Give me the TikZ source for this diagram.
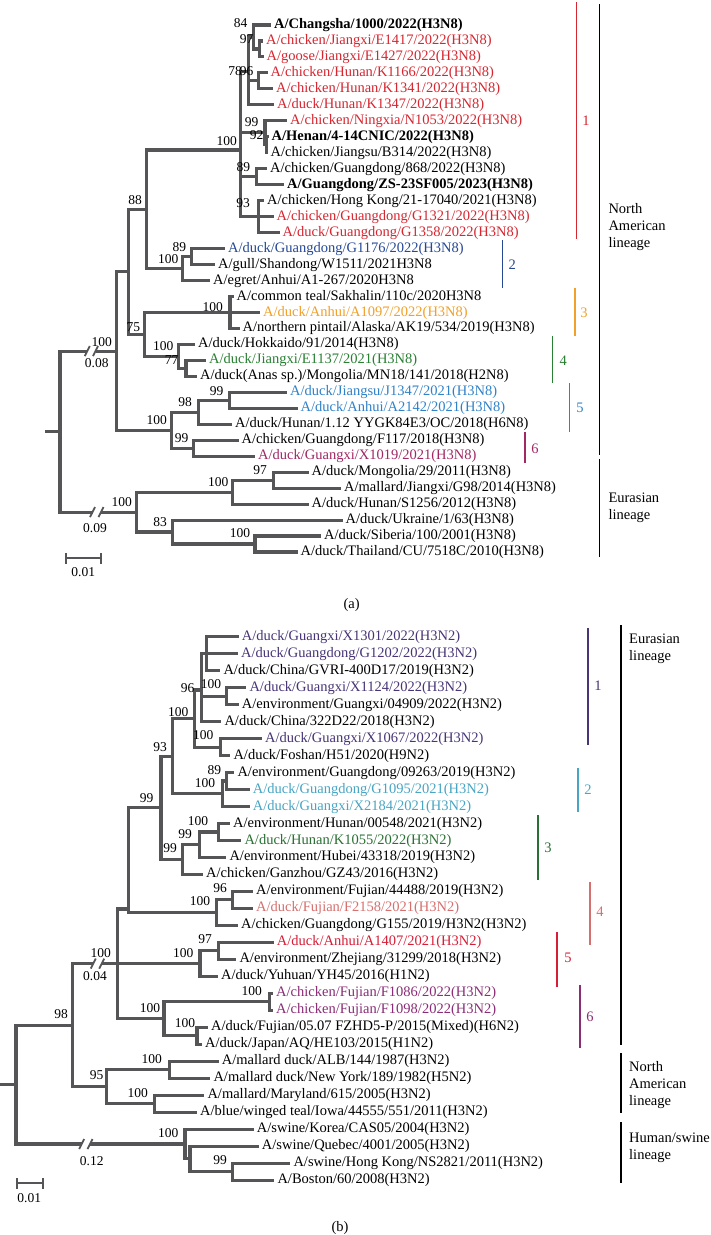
\documentclass[tikz,border=0pt]{standalone}
\usepackage{fontspec}
\setmainfont{Liberation Serif}
\usepackage{tikz}

\newcommand{\leaffont}{\fontsize{14.5}{17}\selectfont}
\newcommand{\bootfont}{\fontsize{13.5}{15}\selectfont}

\definecolor{treegray}{RGB}{85,85,88}
\definecolor{redA}{RGB}{214,38,48}
\definecolor{blueA}{RGB}{38,72,150}
\definecolor{orangeA}{RGB}{242,160,40}
\definecolor{greenA}{RGB}{40,128,50}
\definecolor{skyA}{RGB}{48,130,200}
\definecolor{plumA}{RGB}{160,40,100}
\definecolor{indigoB}{RGB}{72,52,118}
\definecolor{tealB}{RGB}{72,165,195}
\definecolor{greenB}{RGB}{42,112,52}
\definecolor{salmonB}{RGB}{214,112,110}
\definecolor{redB}{RGB}{214,30,55}
\definecolor{plumB}{RGB}{138,45,118}

\begin{document}
\begin{tikzpicture}[x=1pt,y=-1pt,
	leafnode/.style={anchor=west,inner xsep=3pt,inner ysep=0pt,text height=10pt,text depth=3pt,font=\leaffont},
	bootnode/.style={inner sep=0pt,font=\bootfont},
	cladenode/.style={inner sep=0pt,font=\leaffont},
	lineagenode/.style={anchor=west,align=left,inner sep=0pt,font=\fontsize{14.5}{17}\selectfont},
	branch/.style={draw=treegray,line width=3.1pt},
	slash/.style={draw=treegray,line width=1.8pt},
	cladebar/.style={line width=1.4pt}]
	
	\fill[white] (0,0) rectangle (711,1235);
	\useasboundingbox (0,0) rectangle (711,1235);
	
	% ---------------- (a) H3N8 ----------------
	\node [leafnode] (a0) at (271,25.0) {\bfseries A/Changsha/1000/2022(H3N8)};
	\node [leafnode,text=redA] (a1) at (263,41.0) {A/chicken/Jiangxi/E1417/2022(H3N8)};
	\node [leafnode,text=redA] (a2) at (263.5,56.9) {A/goose/Jiangxi/E1427/2022(H3N8)};
	\node [leafnode,text=redA] (a3) at (267.5,72.9) {A/chicken/Hunan/K1166/2022(H3N8)};
	\node [leafnode,text=redA] (a4) at (273,88.9) {A/chicken/Hunan/K1341/2022(H3N8)};
	\node [leafnode,text=redA] (a5) at (274,104.9) {A/duck/Hunan/K1347/2022(H3N8)};
	\node [leafnode,text=redA] (a6) at (287,120.8) {A/chicken/Ningxia/N1053/2022(H3N8)};
	\node [leafnode] (a7) at (268.5,136.8) {\bfseries A/Henan/4-14CNIC/2022(H3N8)};
	\node [leafnode] (a8) at (267.5,152.8) {A/chicken/Jiangsu/B314/2022(H3N8)};
	\node [leafnode] (a9) at (267,168.7) {A/chicken/Guangdong/868/2022(H3N8)};
	\node [leafnode] (a10) at (284,184.7) {\bfseries A/Guangdong/ZS-23SF005/2023(H3N8)};
	\node [leafnode] (a11) at (264,200.7) {A/chicken/Hong Kong/21-17040/2021(H3N8)};
	\node [leafnode,text=redA] (a12) at (273.5,216.6) {A/chicken/Guangdong/G1321/2022(H3N8)};
	\node [leafnode,text=redA] (a13) at (279.5,232.6) {A/duck/Guangdong/G1358/2022(H3N8)};
	\node [leafnode,text=blueA] (a14) at (225,248.6) {A/duck/Guangdong/G1176/2022(H3N8)};
	\node [leafnode] (a15) at (215,264.6) {A/gull/Shandong/W1511/2021H3N8};
	\node [leafnode] (a16) at (210,280.5) {A/egret/Anhui/A1-267/2020H3N8};
	\node [leafnode] (a17) at (233.5,296.5) {A/common teal/Sakhalin/110c/2020H3N8};
	\node [leafnode,text=orangeA] (a18) at (260,312.5) {A/duck/Anhui/A1097/2022(H3N8)};
	\node [leafnode] (a19) at (239.5,328.4) {A/northern pintail/Alaska/AK19/534/2019(H3N8)};
	\node [leafnode] (a20) at (195,344.4) {A/duck/Hokkaido/91/2014(H3N8)};
	\node [leafnode,text=greenA] (a21) at (206,360.4) {A/duck/Jiangxi/E1137/2021(H3N8)};
	\node [leafnode] (a22) at (197,376.3) {A/duck(Anas sp.)/Mongolia/MN18/141/2018(H2N8)};
	\node [leafnode,text=skyA] (a23) at (287,392.3) {A/duck/Jiangsu/J1347/2021(H3N8)};
	\node [leafnode,text=skyA] (a24) at (297.5,408.3) {A/duck/Anhui/A2142/2021(H3N8)};
	\node [leafnode] (a25) at (232,424.3) {A/duck/Hunan/1.12 YYGK84E3/OC/2018(H6N8)};
	\node [leafnode] (a26) at (238.5,440.2) {A/chicken/Guangdong/F117/2018(H3N8)};
	\node [leafnode,text=plumA] (a27) at (255,456.2) {A/duck/Guangxi/X1019/2021(H3N8)};
	\node [leafnode] (a28) at (308.5,472.2) {A/duck/Mongolia/29/2011(H3N8)};
	\node [leafnode] (a29) at (341,488.1) {A/mallard/Jiangxi/G98/2014(H3N8)};
	\node [leafnode] (a30) at (308.5,504.1) {A/duck/Hunan/S1256/2012(H3N8)};
	\node [leafnode] (a31) at (342.5,520.1) {A/duck/Ukraine/1/63(H3N8)};
	\node [leafnode] (a32) at (321,536.0) {A/duck/Siberia/100/2001(H3N8)};
	\node [leafnode] (a33) at (297.5,552.0) {A/duck/Thailand/CU/7518C/2010(H3N8)};
	
	\coordinate (ars) at (45,431.6);
	\coordinate (ar) at (60,431.6);
	\coordinate (ka1) at (87.3,351.1);
	\coordinate (ka2) at (95.5,351.1);
	\coordinate (an1) at (116.7,351.1);
	\coordinate (aA) at (128.3,271.9);
	\coordinate (aB) at (146.7,209.3);
	\coordinate (aC) at (240.7,150);
	\coordinate (aD) at (248.3,71.2);
	\coordinate (aE) at (253.3,37);
	\coordinate (aEp) at (259.3,49);
	\coordinate (aF) at (258.3,80.9);
	\coordinate (aG) at (265,132.8);
	\coordinate (aH) at (266.7,144.8);
	\coordinate (aI) at (256.7,176.7);
	\coordinate (aJ) at (258.3,216.6);
	\coordinate (aK) at (182.7,268.5);
	\coordinate (aL) at (191.7,256.6);
	\coordinate (aM) at (144.3,334.5);
	\coordinate (aN) at (230,312.5);
	\coordinate (aO) at (178.3,356.4);
	\coordinate (aP) at (186,368.4);
	\coordinate (aQ) at (171.7,430.3);
	\coordinate (aR) at (198.3,412.3);
	\coordinate (aS) at (229.3,400.3);
	\coordinate (aT) at (193.3,448.2);
	\coordinate (kb1) at (92.5,512.1);
	\coordinate (kb2) at (101,512.1);
	\coordinate (aU) at (136.7,512.1);
	\coordinate (aV) at (232.7,492.2);
	\coordinate (aW) at (273.3,480.2);
	\coordinate (aX) at (172.7,532);
	\coordinate (aY) at (255,544);
	
	\draw[branch] (ars) -- (ar);
	\draw[branch] (ar) |- (ka1);
	\draw[branch] (ka2) -- (an1);
	\draw[branch] (ar) |- (kb1);
	\draw[branch] (kb2) -- (aU);
	\draw[branch] (an1) |- (aA);
	\draw[branch] (an1) |- (aQ);
	\draw[branch] (aA) |- (aB);
	\draw[branch] (aA) |- (aM);
	\draw[branch] (aB) |- (aC);
	\draw[branch] (aB) |- (aK);
	\draw[branch] (aC) |- (aD);
	\draw[branch] (aC) |- (aG);
	\draw[branch] (aC) |- (aI);
	\draw[branch] (aC) |- (aJ);
	\draw[branch] (aD) |- (aE);
	\draw[branch] (aD) |- (aF);
	\draw[branch] (aD) |- (a5);
	\draw[branch] (aE) |- (a0);
	\draw[branch] (aE) |- (aEp);
	\draw[branch] (aEp) |- (a1);
	\draw[branch] (aEp) |- (a2);
	\draw[branch] (aF) |- (a3);
	\draw[branch] (aF) |- (a4);
	\draw[branch] (aG) |- (a6);
	\draw[branch] (aG) |- (aH);
	\draw[branch] (aH) |- (a7);
	\draw[branch] (aH) |- (a8);
	\draw[branch] (aI) |- (a9);
	\draw[branch] (aI) |- (a10);
	\draw[branch] (aJ) |- (a11);
	\draw[branch] (aJ) |- (a12);
	\draw[branch] (aJ) |- (a13);
	\draw[branch] (aK) |- (aL);
	\draw[branch] (aK) |- (a16);
	\draw[branch] (aL) |- (a14);
	\draw[branch] (aL) |- (a15);
	\draw[branch] (aM) |- (aN);
	\draw[branch] (aM) |- (aO);
	\draw[branch] (aN) |- (a17);
	\draw[branch] (aN) |- (a18);
	\draw[branch] (aN) |- (a19);
	\draw[branch] (aO) |- (a20);
	\draw[branch] (aO) |- (aP);
	\draw[branch] (aP) |- (a21);
	\draw[branch] (aP) |- (a22);
	\draw[branch] (aQ) |- (aR);
	\draw[branch] (aQ) |- (aT);
	\draw[branch] (aR) |- (aS);
	\draw[branch] (aR) |- (a25);
	\draw[branch] (aS) |- (a23);
	\draw[branch] (aS) |- (a24);
	\draw[branch] (aT) |- (a26);
	\draw[branch] (aT) |- (a27);
	\draw[branch] (aU) |- (aV);
	\draw[branch] (aU) |- (aX);
	\draw[branch] (aV) |- (aW);
	\draw[branch] (aV) |- (a30);
	\draw[branch] (aW) |- (a28);
	\draw[branch] (aW) |- (a29);
	\draw[branch] (aX) |- (a31);
	\draw[branch] (aX) |- (aY);
	\draw[branch] (aY) |- (a32);
	\draw[branch] (aY) |- (a33);
	
	% breaks
	\draw[slash] (ka1) ++(-2.5,5) -- ++(5,-10);
	\draw[slash] (ka2) ++(-2.5,5) -- ++(5,-10);
	\draw[slash] (kb1) ++(-2.5,5) -- ++(5,-10);
	\draw[slash] (kb2) ++(-2.5,5) -- ++(5,-10);
	
	\node [bootnode] (ab1) at (101.7,341.7) {100};
	\node [bootnode] (ab2) at (96.7,363.3) {0.08};
	\node [bootnode] (ab3) at (121.7,501.7) {100};
	\node [bootnode] (ab4) at (95,528.3) {0.09};
	\node [bootnode] (ab5) at (135,200) {88};
	\node [bootnode] (ab6) at (133.3,326.7) {75};
	\node [bootnode] (ab7) at (226.7,141) {100};
	\node [bootnode] (ab8) at (240.7,23.3) {84};
	\node [bootnode] (ab9) at (246.7,39.3) {97};
	\node [bootnode] (ab10) at (235,71) {78};
	\node [bootnode] (ab11) at (246.7,71) {96};
	\node [bootnode] (ab12) at (251.7,122.3) {99};
	\node [bootnode] (ab13) at (256.7,135) {92};
	\node [bootnode] (ab14) at (243.3,166.7) {89};
	\node [bootnode] (ab15) at (243,202.7) {93};
	\node [bootnode] (ab16) at (168.3,259) {100};
	\node [bootnode] (ab17) at (179.3,246.7) {89};
	\node [bootnode] (ab18) at (212.7,306.7) {100};
	\node [bootnode] (ab19) at (163.3,346) {100};
	\node [bootnode] (ab20) at (171.7,360) {77};
	\node [bootnode] (ab21) at (156.7,420) {100};
	\node [bootnode] (ab22) at (185,401.7) {98};
	\node [bootnode] (ab23) at (216.7,390.7) {99};
	\node [bootnode] (ab24) at (181.7,438.3) {99};
	\node [bootnode] (ab25) at (218.3,481.7) {100};
	\node [bootnode] (ab26) at (260,470) {97};
	\node [bootnode] (ab27) at (160,521.7) {83};
	\node [bootnode] (ab28) at (240,533.3) {100};
	
	% clades (a)
	\draw[cladebar,redA] (576.7,2) -- (576.7,239);
	\node [cladenode,text=redA] (ac1) at (586,120.5) {1};
	\draw[cladebar,blueA] (502.7,240.3) -- (502.7,287.7);
	\node [cladenode,text=blueA] (ac2) at (512.3,264.8) {2};
	\draw[cladebar,orangeA] (575,287.7) -- (575,336);
	\node [cladenode,text=orangeA] (ac3) at (584,312.3) {3};
	\draw[cladebar,greenA] (552.7,336) -- (552.7,383.4);
	\node [cladenode,text=greenA] (ac4) at (563.3,360.5) {4};
	\draw[cladebar,skyA] (569.3,383.4) -- (569.3,432);
	\node [cladenode,text=skyA] (ac5) at (580,408) {5};
	\draw[cladebar,plumA] (525,432) -- (525,463.2);
	\node [cladenode,text=plumA] (ac6) at (535,448.6) {6};
	\draw[cladebar,black] (599.3,4) -- (599.3,454.5);
	\node [lineagenode] (al1) at (608.3,227) {North\\American\\lineage};
	\draw[cladebar,black] (599.3,458.5) -- (599.3,557.3);
	\node [lineagenode] (al2) at (608.3,507.5) {Eurasian\\lineage};
	
	\draw[treegray,line width=1.8pt] (66,558.3) -- (100.7,558.3);
	\draw[treegray,line width=1.8pt] (66,553) -- (66,563.6);
	\draw[treegray,line width=1.8pt] (100.7,553) -- (100.7,563.6);
	\node [bootnode] (as) at (83.3,572) {0.01};
	\node [cladenode] (acap) at (351.7,605) {(a)};
	
	% ---------------- (b) H3N2 ----------------
	\node [leafnode,text=indigoB] (b0) at (238.7,636.7) {A/duck/Guangxi/X1301/2022(H3N2)};
	\node [leafnode,text=indigoB] (b1) at (238,653.7) {A/duck/Guangdong/G1202/2022(H3N2)};
	\node [leafnode] (b2) at (220.3,670.7) {A/duck/China/GVRI-400D17/2019(H3N2)};
	\node [leafnode,text=indigoB] (b3) at (246.3,687.6) {A/duck/Guangxi/X1124/2022(H3N2)};
	\node [leafnode] (b4) at (238.7,704.6) {A/environment/Guangxi/04909/2022(H3N2)};
	\node [leafnode] (b5) at (221.3,721.6) {A/duck/China/322D22/2018(H3N2)};
	\node [leafnode,text=indigoB] (b6) at (262,738.6) {A/duck/Guangxi/X1067/2022(H3N2)};
	\node [leafnode] (b7) at (230.3,755.6) {A/duck/Foshan/H51/2020(H9N2)};
	\node [leafnode] (b8) at (234.3,772.5) {A/environment/Guangdong/09263/2019(H3N2)};
	\node [leafnode,text=tealB] (b9) at (249.7,789.5) {A/duck/Guangdong/G1095/2021(H3N2)};
	\node [leafnode,text=tealB] (b10) at (249.7,806.5) {A/duck/Guangxi/X2184/2021(H3N2)};
	\node [leafnode] (b11) at (230,823.5) {A/environment/Hunan/00548/2021(H3N2)};
	\node [leafnode,text=greenB] (b12) at (241.3,840.5) {A/duck/Hunan/K1055/2022(H3N2)};
	\node [leafnode] (b13) at (226.3,857.4) {A/environment/Hubei/43318/2019(H3N2)};
	\node [leafnode] (b14) at (203,874.4) {A/chicken/Ganzhou/GZ43/2016(H3N2)};
	\node [leafnode] (b15) at (253,891.4) {A/environment/Fujian/44488/2019(H3N2)};
	\node [leafnode,text=salmonB] (b16) at (253,908.4) {A/duck/Fujian/F2158/2021(H3N2)};
	\node [leafnode] (b17) at (238,925.4) {A/chicken/Guangdong/G155/2019/H3N2(H3N2)};
	\node [leafnode,text=redB] (b18) at (273.7,942.3) {A/duck/Anhui/A1407/2021(H3N2)};
	\node [leafnode] (b19) at (236.3,959.3) {A/environment/Zhejiang/31299/2018(H3N2)};
	\node [leafnode] (b20) at (218,976.3) {A/duck/Yuhuan/YH45/2016(H1N2)};
	\node [leafnode,text=plumB] (b21) at (273,993.3) {A/chicken/Fujian/F1086/2022(H3N2)};
	\node [leafnode,text=plumB] (b22) at (273,1010.3) {A/chicken/Fujian/F1098/2022(H3N2)};
	\node [leafnode] (b23) at (208,1027.2) {A/duck/Fujian/05.07 FZHD5-P/2015(Mixed)(H6N2)};
	\node [leafnode] (b24) at (202,1044.2) {A/duck/Japan/AQ/HE103/2015(H1N2)};
	\node [leafnode] (b25) at (218.7,1061.2) {A/mallard duck/ALB/144/1987(H3N2)};
	\node [leafnode] (b26) at (210.3,1078.2) {A/mallard duck/New York/189/1982(H5N2)};
	\node [leafnode] (b27) at (204.3,1095.2) {A/mallard/Maryland/615/2005(H3N2)};
	\node [leafnode] (b28) at (197,1112.1) {A/blue/winged teal/Iowa/44555/551/2011(H3N2)};
	\node [leafnode] (b29) at (253.7,1129.1) {A/swine/Korea/CAS05/2004(H3N2)};
	\node [leafnode] (b30) at (258.7,1146.1) {A/swine/Quebec/4001/2005(H3N2)};
	\node [leafnode] (b31) at (290.3,1163.1) {A/swine/Hong Kong/NS2821/2011(H3N2)};
	\node [leafnode] (b32) at (274.3,1180.1) {A/Boston/60/2008(H3N2)};
	
	\coordinate (brs) at (0,1084.6);
	\coordinate (br) at (16,1084.6);
	\coordinate (bAA) at (72.7,1025.2);
	\coordinate (kc1) at (93.3,963.6);
	\coordinate (kc2) at (101.7,963.6);
	\coordinate (bBB) at (117.3,963.6);
	\coordinate (bCC) at (128.3,909);
	\coordinate (bDD) at (161,807.9);
	\coordinate (bEE) at (172.7,756.2);
	\coordinate (bGG) at (194.3,718.5);
	\coordinate (bII) at (201.7,690);
	\coordinate (bLL) at (206.7,653.7);
	\coordinate (bKK) at (226.7,696.1);
	\coordinate (bJJ) at (220.7,747.1);
	\coordinate (bHH) at (222.7,793.8);
	\coordinate (bMM) at (226.7,781);
	\coordinate (bFF) at (182.7,859.6);
	\coordinate (bNN) at (199.3,844.7);
	\coordinate (bOO) at (218.3,832);
	\coordinate (bPP) at (216.7,912.7);
	\coordinate (bQQ) at (232.7,899.9);
	\coordinate (bRR) at (200,963.6);
	\coordinate (bSS) at (218.3,950.8);
	\coordinate (bTT) at (164,1018.8);
	\coordinate (bUU) at (269.3,1001.8);
	\coordinate (bVV) at (197,1035.7);
	\coordinate (bWW) at (106.7,1086.7);
	\coordinate (bXX) at (169.3,1069.7);
	\coordinate (bYY) at (154.3,1103.7);
	\coordinate (kd1) at (81.7,1144);
	\coordinate (kd2) at (90,1144);
	\coordinate (bZZ) at (185,1144);
	\coordinate (bAAA) at (190,1158.9);
	\coordinate (bBBB) at (232.3,1171.6);
	
	\draw[branch] (brs) -- (br);
	\draw[branch] (br) |- (bAA);
	\draw[branch] (br) |- (kd1);
	\draw[branch] (kd2) -- (bZZ);
	\draw[branch] (bAA) |- (kc1);
	\draw[branch] (kc2) -- (bBB);
	\draw[branch] (bAA) |- (bWW);
	\draw[branch] (bBB) |- (bCC);
	\draw[branch] (bBB) |- (bRR);
	\draw[branch] (bBB) |- (bTT);
	\draw[branch] (bCC) |- (bDD);
	\draw[branch] (bCC) |- (bPP);
	\draw[branch] (bDD) |- (bEE);
	\draw[branch] (bDD) |- (bFF);
	\draw[branch] (bEE) |- (bGG);
	\draw[branch] (bEE) |- (bHH);
	\draw[branch] (bGG) |- (bII);
	\draw[branch] (bGG) |- (bJJ);
	\draw[branch] (bII) |- (bLL);
	\draw[branch] (bII) |- (bKK);
	\draw[branch] (bII) |- (b5);
	\draw[branch] (bLL) |- (b0);
	\draw[branch] (bLL) |- (b1);
	\draw[branch] (bLL) |- (b2);
	\draw[branch] (bKK) |- (b3);
	\draw[branch] (bKK) |- (b4);
	\draw[branch] (bJJ) |- (b6);
	\draw[branch] (bJJ) |- (b7);
	\draw[branch] (bHH) |- (bMM);
	\draw[branch] (bHH) |- (b10);
	\draw[branch] (bMM) |- (b8);
	\draw[branch] (bMM) |- (b9);
	\draw[branch] (bFF) |- (bNN);
	\draw[branch] (bFF) |- (b14);
	\draw[branch] (bNN) |- (bOO);
	\draw[branch] (bNN) |- (b13);
	\draw[branch] (bOO) |- (b11);
	\draw[branch] (bOO) |- (b12);
	\draw[branch] (bPP) |- (bQQ);
	\draw[branch] (bPP) |- (b17);
	\draw[branch] (bQQ) |- (b15);
	\draw[branch] (bQQ) |- (b16);
	\draw[branch] (bRR) |- (bSS);
	\draw[branch] (bRR) |- (b20);
	\draw[branch] (bSS) |- (b18);
	\draw[branch] (bSS) |- (b19);
	\draw[branch] (bTT) |- (bUU);
	\draw[branch] (bTT) |- (bVV);
	\draw[branch] (bUU) |- (b21);
	\draw[branch] (bUU) |- (b22);
	\draw[branch] (bVV) |- (b23);
	\draw[branch] (bVV) |- (b24);
	\draw[branch] (bWW) |- (bXX);
	\draw[branch] (bWW) |- (bYY);
	\draw[branch] (bXX) |- (b25);
	\draw[branch] (bXX) |- (b26);
	\draw[branch] (bYY) |- (b27);
	\draw[branch] (bYY) |- (b28);
	\draw[branch] (bZZ) |- (b29);
	\draw[branch] (bZZ) |- (bAAA);
	\draw[branch] (bAAA) |- (b30);
	\draw[branch] (bAAA) |- (bBBB);
	\draw[branch] (bBBB) |- (b31);
	\draw[branch] (bBBB) |- (b32);
	
	% breaks
	\draw[slash] (kc1) ++(-2.5,5) -- ++(5,-10);
	\draw[slash] (kc2) ++(-2.5,5) -- ++(5,-10);
	\draw[slash] (kd1) ++(-2.5,5) -- ++(5,-10);
	\draw[slash] (kd2) ++(-2.5,5) -- ++(5,-10);
	
	\node [bootnode] (bb1) at (187.7,687.7) {96};
	\node [bootnode] (bb2) at (211,684) {100};
	\node [bootnode] (bb3) at (178.3,711.7) {100};
	\node [bootnode] (bb4) at (203.3,735) {100};
	\node [bootnode] (bb5) at (160,746.7) {93};
	\node [bootnode] (bb6) at (205,782.7) {100};
	\node [bootnode] (bb7) at (214.3,770) {89};
	\node [bootnode] (bb8) at (146.7,798.3) {99};
	\node [bootnode] (bb9) at (198,821) {100};
	\node [bootnode] (bb10) at (185,834) {99};
	\node [bootnode] (bb11) at (170,848.3) {99};
	\node [bootnode] (bb12) at (200,901) {100};
	\node [bootnode] (bb13) at (220,888.3) {96};
	\node [bootnode] (bb14) at (183.3,952.7) {100};
	\node [bootnode] (bb15) at (205,939.3) {97};
	\node [bootnode] (bb16) at (251.7,990.7) {100};
	\node [bootnode] (bb17) at (150,1008.3) {100};
	\node [bootnode] (bb18) at (185,1023.3) {100};
	\node [bootnode] (bb19) at (100.7,953.3) {100};
	\node [bootnode] (bb20) at (95,976) {0.04};
	\node [bootnode] (bb21) at (61,1014) {98};
	\node [bootnode] (bb22) at (96.7,1075) {95};
	\node [bootnode] (bb23) at (151.7,1059.3) {100};
	\node [bootnode] (bb24) at (137.7,1092.7) {100};
	\node [bootnode] (bb25) at (168.3,1133.3) {100};
	\node [bootnode] (bb26) at (220,1160) {99};
	\node [bootnode] (bb27) at (91.7,1160.7) {0.12};
	
	% clades (b)
	\draw[cladebar,indigoB] (588,628) -- (588,745);
	\node [cladenode,text=indigoB] (bc1) at (598,686) {1};
	\draw[cladebar,tealB] (578,768) -- (578,812);
	\node [cladenode,text=tealB] (bc2) at (588,790) {2};
	\draw[cladebar,greenB] (538,815) -- (538,880);
	\node [cladenode,text=greenB] (bc3) at (548,848) {3};
	\draw[cladebar,salmonB] (590,882) -- (590,945);
	\node [cladenode,text=salmonB] (bc4) at (600,912) {4};
	\draw[cladebar,redB] (557,932) -- (557,987);
	\node [cladenode,text=redB] (bc5) at (568,958) {5};
	\draw[cladebar,plumB] (580,985) -- (580,1048);
	\node [cladenode,text=plumB] (bc6) at (590,1017) {6};
	\draw[cladebar,black] (621,625) -- (621,1045);
	\node [lineagenode] (bl1) at (629,649) {Eurasian\\lineage};
	\draw[cladebar,black] (621,1053) -- (621,1113);
	\node [lineagenode] (bl2) at (629,1085) {North\\American\\lineage};
	\draw[cladebar,black] (621,1122) -- (621,1183);
	\node [lineagenode] (bl3) at (629,1148) {Human/swine\\lineage};
	
	\draw[treegray,line width=1.8pt] (16.7,1183.3) -- (42.7,1183.3);
	\draw[treegray,line width=1.8pt] (16.7,1178) -- (16.7,1188.6);
	\draw[treegray,line width=1.8pt] (42.7,1178) -- (42.7,1188.6);
	\node [bootnode] (bs) at (29.3,1197.7) {0.01};
	\node [cladenode] (bcap) at (340,1228) {(b)};
\end{tikzpicture}
\end{document}
